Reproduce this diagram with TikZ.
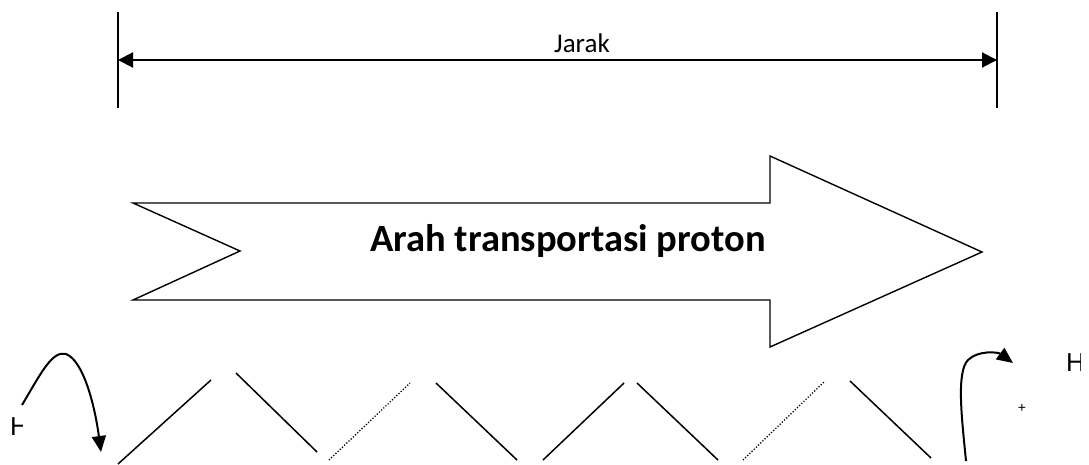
\documentclass[tikz,border=0pt]{standalone}
\usepackage{fontspec}
\setmainfont{Carlito}
\newfontfamily\arialfont{Liberation Sans}
\usetikzlibrary{arrows.meta}
\tikzset{
  bar/.style={line width=1.3pt},
  span/.style={line width=2pt,{Triangle[length=15pt,width=15pt]}-{Triangle[length=15pt,width=15pt]}},
  bigarrow/.style={line width=1.4pt,fill=white,line join=miter},
  wall/.style={line width=1.5pt},
  gap/.style={line width=1.3pt,dash pattern=on 1.2pt off 1.8pt},
  hop/.style={line width=2pt,-{Triangle[length=16pt,width=14pt]}},
  ion/.style={font=\arialfont\fontsize{26}{26}\selectfont,inner sep=0pt,anchor=west},
}
\begin{document}
\begin{tikzpicture}[x=1pt,y=-1pt]
\useasboundingbox (0,0) rectangle (1089,464);

% distance marker
\coordinate (L1) at (118,12);  \coordinate (L2) at (118,108);
\coordinate (R1) at (997,12);  \coordinate (R2) at (997,108);
\coordinate (La) at (118,60);  \coordinate (Ra) at (997,60);
\draw[bar] (L1) -- (L2);
\draw[bar] (R1) -- (R2);
\draw[span] (La) -- (Ra);
\node[font=\fontsize{27}{27}\selectfont,inner sep=0pt] (jarak) at (582,43) {Jarak};

% direction arrow
\draw[bigarrow] (133,203) -- (770,203) -- (770,156) -- (982,252) -- (770,347)
  -- (770,300) -- (133,300) -- (240,251) -- cycle;
\node[font=\bfseries\fontsize{38.5}{38.5}\selectfont,inner sep=0pt] (dir) at (568,241) {Arah transportasi proton};

% membrane segments
\draw[wall] (118,464) -- (211,380);
\draw[wall] (236,373) -- (317,452);
\draw[gap]  (329,460) -- (410,383);
\draw[wall] (436,383) -- (517,460);
\draw[wall] (543,460) -- (624,383);
\draw[wall] (637,383) -- (718,460);
\draw[gap]  (743,460) -- (825,381);
\draw[wall] (850,381) -- (931,458);

% protons entering and leaving
\begin{scope}
  \clip (0,400) rectangle (22,450);
  \node[ion] (hin) at (10,427) {H};
\end{scope}
\coordinate (inA) at (22,405);
\coordinate (inB) at (101,452);
\draw[hop] (inA) .. controls (40,375) and (52,350) .. (66,354)
  .. controls (82,360) and (94,400) .. (inB);

\begin{scope}
  \clip (1060,340) rectangle (1080,380);
  \node[ion] (hout) at (1066,363) {H};
\end{scope}
\node[font=\arialfont\fontsize{14}{14}\selectfont,inner sep=0pt] (plus) at (1022,408) {+};
\coordinate (outA) at (966,461);
\coordinate (outB) at (1013,363);
\draw[hop] (outA) .. controls (962,420) and (956,372) .. (968,360)
  .. controls (978,350) and (998,352) .. (outB);
\end{tikzpicture}
\end{document}
